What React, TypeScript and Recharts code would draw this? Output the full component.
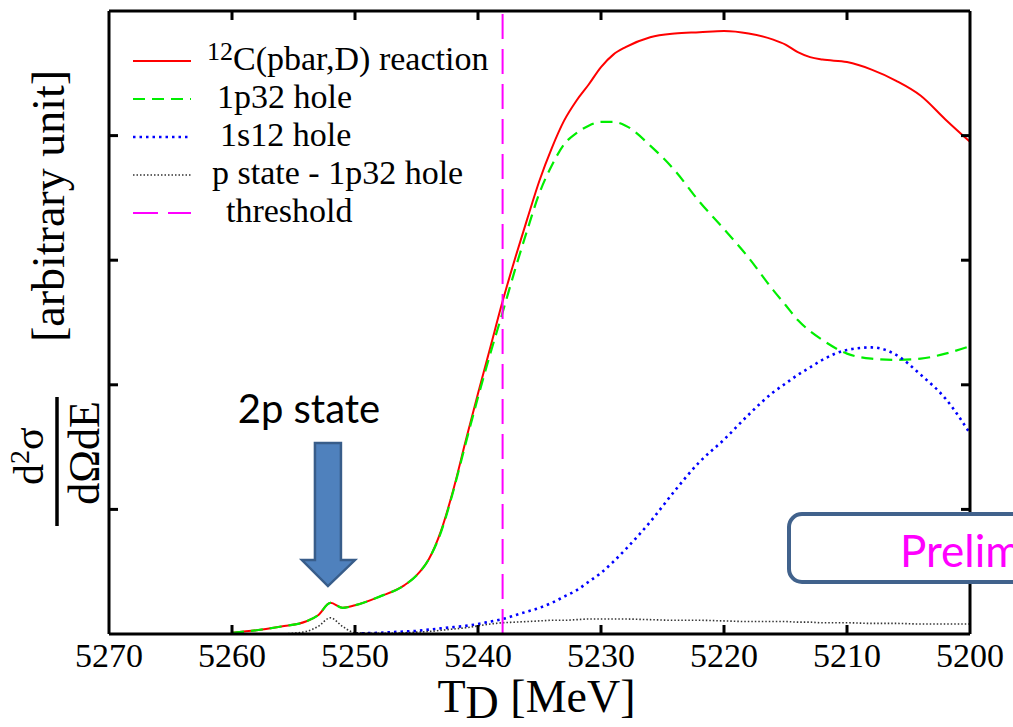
import React from "react";
import {
  Legend,
  Line,
  LineChart,
  ReferenceDot,
  ReferenceLine,
  XAxis,
  YAxis,
} from "recharts";

// deuteron kinetic energy T_D [MeV]
const energies = [
  5260, 5258, 5256, 5254, 5253, 5252, 5251, 5250, 5248, 5246, 5245, 5244,
  5243, 5242, 5241, 5240, 5239, 5238, 5237, 5236, 5235, 5234, 5233, 5232,
  5231, 5230, 5229, 5228, 5226, 5224, 5222, 5220, 5218, 5216, 5215, 5214,
  5213, 5212, 5210, 5208, 5206, 5204, 5202, 5200,
];

// 12C(pbar,D) reaction (total)
const totalReaction = [
  0.01, 0.03, 0.06, 0.1, 0.15, 0.25, 0.21, 0.23, 0.3, 0.39, 0.47, 0.6,
  0.83, 1.16, 1.55, 1.93, 2.3, 2.67, 3.01, 3.33, 3.64, 3.9, 4.12, 4.28,
  4.41, 4.55, 4.65, 4.71, 4.79, 4.82, 4.83, 4.84, 4.82, 4.77, 4.73, 4.67,
  4.63, 4.61, 4.59, 4.53, 4.44, 4.32, 4.13, 3.95,
];

// 1p3/2 hole
const hole1p32 = [
  0.01, 0.03, 0.06, 0.1, 0.15, 0.25, 0.21, 0.23, 0.3, 0.39, 0.47, 0.6,
  0.82, 1.15, 1.53, 1.9, 2.25, 2.58, 2.92, 3.24, 3.54, 3.76, 3.93, 4.02,
  4.08, 4.11, 4.11, 4.08, 3.92, 3.72, 3.47, 3.25, 3.02, 2.76, 2.64, 2.52,
  2.43, 2.36, 2.25, 2.21, 2.2, 2.21, 2.25, 2.31,
];

// 1s1/2 hole
const hole1s12 = [
  null, null, null, null, null, null, null, 0.005, 0.01, 0.02, 0.025, 0.035,
  0.045, 0.055, 0.065, 0.08, 0.1, 0.12, 0.15, 0.18, 0.21, 0.25, 0.3, 0.35,
  0.42, 0.49, 0.58, 0.68, 0.9, 1.15, 1.38, 1.56, 1.76, 1.94, 2.01, 2.08,
  2.14, 2.2, 2.28, 2.3, 2.24, 2.08, 1.89, 1.61,
];

// p state - 1p3/2 hole
const pStateHole = [
  null, null, 0.0, 0.02, 0.06, 0.13, 0.06, 0.01, 0.005, 0.01, 0.015, 0.02,
  0.03, 0.04, 0.05, 0.065, 0.08, 0.09, 0.095, 0.1, 0.105, 0.11, 0.11, 0.115,
  0.12, 0.12, 0.12, 0.12, 0.115, 0.11, 0.11, 0.105, 0.1, 0.1, 0.1, 0.095,
  0.095, 0.09, 0.09, 0.085, 0.085, 0.08, 0.08, 0.08,
];

const xTicks = [5270, 5260, 5250, 5240, 5230, 5220, 5210, 5200];
const yTicks = [0, 1, 2, 3, 4, 5];
const thresholdEnergy = 5238;
const state2pEnergy = 5252.2;
const arrowTipValue = 0.385;

const data = energies.map((t, i) => ({
  t,
  total: totalReaction[i],
  p32: hole1p32[i],
  s12: hole1s12[i],
  pstate: pStateHole[i],
}));

const series = [
  { key: "total", sup: "12", name: "C(pbar,D) reaction", color: "#FF0000", dash: undefined, width: 2, indent: 87 },
  { key: "p32", sup: "", name: "1p32 hole", color: "#00EE00", dash: "12 7", width: 2.2, indent: 97 },
  { key: "s12", sup: "", name: "1s12 hole", color: "#0000FF", dash: "2.5 4", width: 2.6, indent: 100 },
  { key: "pstate", sup: "", name: "p state - 1p32 hole", color: "#333333", dash: "1.5 2", width: 1.6, indent: 92 },
];

const thresholdStyle = { name: "threshold", color: "#FF00FF", dash: "25 10", width: 2, indent: 106 };

const SERIF = "Liberation Serif";
const TICK = 9;
const xMin = xTicks[xTicks.length - 1];
const xMax = xTicks[0];
const yMin = yTicks[0];
const yMax = yTicks[yTicks.length - 1];

// tick positions on the lower and upper frame edge
const tickMarks = xTicks.slice(1, -1).map((t) => ({ t, lower: yMin, upper: yMax }));

const renderBottomTick = ({ x, y, payload }: any) => (
  <text x={x} y={y + 33} textAnchor="middle" fontFamily={SERIF} fontSize={34} fill="#000">
    {payload.value}
  </text>
);

// inward tick marks on the frame, placed through the chart scales
const renderLowerMark = (p: any) => (
  <path key={`lo-${p.index}`} d={`M${p.cx},${p.cy} L${p.cx},${p.cy - TICK}`} stroke="#000000" strokeWidth={3} fill="none" />
);
const renderUpperMark = (p: any) => (
  <path key={`up-${p.index}`} d={`M${p.cx},${p.cy} L${p.cx},${p.cy + TICK}`} stroke="#000000" strokeWidth={3} fill="none" />
);

const renderYTickMark = (p: any) => {
  const left = Math.min(p.x1, p.x2);
  const right = Math.max(p.x1, p.x2);
  return (
    <g>
      <line x1={left} x2={left + TICK} y1={p.y1} y2={p.y1} stroke="#000" strokeWidth={3} />
      <line x1={right} x2={right - TICK} y1={p.y1} y2={p.y1} stroke="#000" strokeWidth={3} />
    </g>
  );
};

const XTitle = ({ viewBox }: any) => {
  const { x, y, width } = viewBox;
  return (
    <text x={x + width / 2 - 3} y={y + 78} textAnchor="middle" fontFamily={SERIF} fontSize={46} fill="#000">
      T<tspan dy={6}>D</tspan>
      <tspan dy={-6}>{"\u00A0[MeV]"}</tspan>
    </text>
  );
};

const YTitle = ({ viewBox }: any) => {
  const { x, y } = viewBox;
  return (
    <g fontFamily={SERIF} fill="#000">
      <text transform={`translate(${x + 64},${y + 195}) rotate(-90)`} textAnchor="middle" fontSize={46}>
        [arbitrary unit]
      </text>
      <text transform={`translate(${x + 43},${y + 474}) rotate(-90)`} fontSize={42}>
        d<tspan fontSize={28} dy={-14}>2</tspan>
        <tspan dy={14}>σ</tspan>
      </text>
      <line x1={x + 57} x2={x + 57} y1={y + 386} y2={y + 515} stroke="#000" strokeWidth={3.5} />
      <text transform={`translate(${x + 99},${y + 442}) rotate(-90)`} textAnchor="middle" fontSize={44}>
        dΩdE
      </text>
    </g>
  );
};

const Arrow2p = ({ cx, cy }: any) => (
  <g>
    <polygon
      points={`${cx - 13},${cy - 143} ${cx + 13},${cy - 143} ${cx + 13},${cy - 26} ${cx + 27},${cy - 26} ${cx},${cy} ${cx - 26},${cy - 26} ${cx - 13},${cy - 26}`}
      fill="#4F81BD"
      stroke="#385D8A"
      strokeWidth={2.5}
    />
    <text x={cx - 19} y={cy - 163} textAnchor="middle" fontFamily="Lato, 'Open Sans', sans-serif" fontSize={40} fill="#000">
      2p state
    </text>
  </g>
);

const LegendBox = () => {
  const rows = [...series, thresholdStyle];
  return (
    <svg width={400} height={200} style={{ overflow: "visible" }}>
      {rows.map((row: any, i) => {
        const base = 30 + i * 38;
        return (
          <g key={row.name}>
            <line x1={13} x2={71} y1={base - 9} y2={base - 9} stroke={row.color} strokeWidth={row.width} strokeDasharray={row.dash} />
            <text x={row.indent} y={base} fontFamily={SERIF} fontSize={34} fill="#000">
              {row.sup ? (
                <>
                  <tspan fontSize={26} dy={-10}>{row.sup}</tspan>
                  <tspan dy={10}>{row.name}</tspan>
                </>
              ) : (
                row.name
              )}
            </text>
          </g>
        );
      })}
    </svg>
  );
};

export default function App() {
  return (
    <div style={{ position: "absolute", left: 0, top: 0, width: 1013, height: 727, overflow: "hidden", background: "#fff" }}>
      <LineChart width={1013} height={727} data={data} margin={{ top: 11, right: 43, bottom: 0, left: 0 }}>
        <XAxis
          dataKey="t"
          type="number"
          domain={[xMin, xMax]}
          reversed
          ticks={xTicks}
          interval={0}
          height={93}
          axisLine={false}
          tickLine={false}
          tickSize={0}
          tickMargin={0}
          tick={renderBottomTick}
          label={<XTitle />}
        />
        <YAxis
          type="number"
          domain={[yMin, yMax]}
          ticks={yTicks}
          interval={0}
          width={109}
          axisLine={false}
          tickLine={false}
          tick={false}
          label={<YTitle />}
        />
        {series.map((s) => (
          <Line
            key={s.key}
            dataKey={s.key}
            name={s.name}
            type="monotone"
            stroke={s.color}
            strokeWidth={s.width}
            strokeDasharray={s.dash}
            dot={false}
            activeDot={false}
            isAnimationActive={false}
          />
        ))}
        <Line
          data={tickMarks}
          dataKey="lower"
          stroke="none"
          legendType="none"
          dot={renderLowerMark}
          activeDot={false}
          isAnimationActive={false}
        />
        <Line
          data={tickMarks}
          dataKey="upper"
          stroke="none"
          legendType="none"
          dot={renderUpperMark}
          activeDot={false}
          isAnimationActive={false}
        />
        <ReferenceLine
          x={thresholdEnergy}
          stroke={thresholdStyle.color}
          strokeWidth={thresholdStyle.width}
          strokeDasharray={thresholdStyle.dash}
        />
        {yTicks.slice(1, -1).map((v) => (
          <ReferenceLine key={`yt-${v}`} y={v} shape={renderYTickMark} />
        ))}
        <ReferenceDot x={state2pEnergy} y={arrowTipValue} r={0} ifOverflow="visible" shape={(p: any) => <Arrow2p cx={p.cx} cy={p.cy} />} />
        {/* frame */}
        <ReferenceLine x={xMax} stroke="#000" strokeWidth={3} ifOverflow="visible" />
        <ReferenceLine x={xMin} stroke="#000" strokeWidth={3} ifOverflow="visible" />
        <ReferenceLine y={yMin} stroke="#000" strokeWidth={3} ifOverflow="visible" />
        <ReferenceLine y={yMax} stroke="#000" strokeWidth={3} ifOverflow="visible" />
        <Legend
          layout="vertical"
          align="center"
          verticalAlign="middle"
          content={<LegendBox />}
          wrapperStyle={{ left: 120, top: 40, width: 400, height: 200 }}
        />
      </LineChart>
      <svg width={1013} height={727} style={{ position: "absolute", left: 0, top: 0, pointerEvents: "none" }}>
        <rect x={789} y={514} width={300} height={68} rx={13} fill="#fff" stroke="#41628C" strokeWidth={4} />
        <text x={900} y={567} fontFamily="Lato, 'Open Sans', sans-serif" fontSize={44} fill="#FF00FF">
          Preliminary
        </text>
      </svg>
    </div>
  );
}
